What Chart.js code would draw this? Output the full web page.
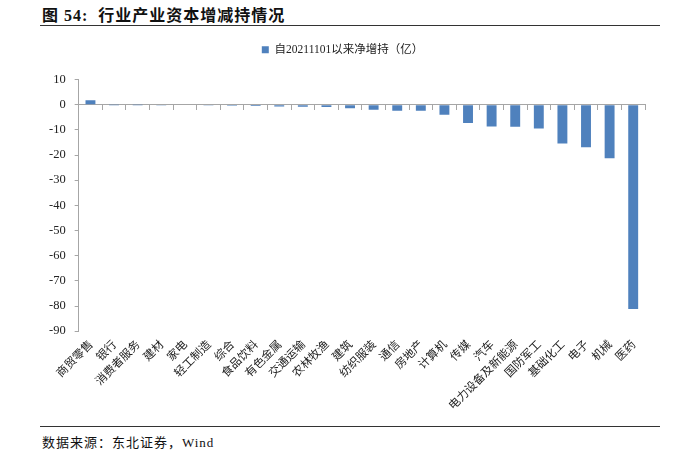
<!DOCTYPE html>
<html><head><meta charset="utf-8">
<script src="https://cdn.jsdelivr.net/npm/chart.js@4.4.0/dist/chart.umd.min.js"></script>
<style>
html,body{margin:0;padding:0;background:#fff;}
body{width:674px;height:459px;position:relative;overflow:hidden;font-family:"Liberation Serif","Noto Sans CJK SC",serif;}
#title{position:absolute;left:42px;top:2px;font-size:16px;letter-spacing:1px;font-weight:bold;color:#111;white-space:nowrap;}
#line1{position:absolute;left:40px;top:25px;width:620px;height:0;border-top:1.5px solid #333;}
#line2{position:absolute;left:40px;top:426px;width:620px;height:0;border-top:1.5px solid #333;}
#src{position:absolute;left:42px;top:432px;font-size:13px;letter-spacing:1px;color:#111;white-space:nowrap;}
#wrap{position:absolute;left:0;top:30px;width:674px;height:395px;}
</style></head>
<body>
<div id="title">图 54:&nbsp; 行业产业资本增减持情况</div>
<div id="line1"></div>
<div id="wrap"><canvas id="c"></canvas></div>
<div id="line2"></div>
<div id="src">数据来源：东北证券，Wind</div>
<script>
const categories = ["商贸零售","银行","消费者服务","建材","家电","轻工制造","综合","食品饮料","有色金属","交通运输","农林牧渔","建筑","纺织服装","通信","房地产","计算机","传媒","汽车","电力设备及新能源","国防军工","基础化工","电子","机械","医药"];
const netIncrease = [1.8,-0.02,-0.05,-0.1,-0.2,-0.3,-0.4,-0.5,-0.7,-0.8,-0.9,-1.4,-2.0,-2.4,-2.4,-4.0,-7.3,-8.7,-8.8,-9.5,-15.4,-16.9,-21.3,-81.2];
const seriesName = "自20211101以来净增持（亿）";
const yMin = -90, yMax = 10, yStep = 10;

const axisColor = "#A6A6A6";
const serif = "'Liberation Serif','Noto Sans CJK SC',serif";

const legendMargin = {
  id: 'legendMargin',
  beforeInit(chart) {
    const fit = chart.legend.fit;
    chart.legend.fit = function () { fit.bind(chart.legend)(); this.height += 14; };
  }
};

new Chart(document.getElementById('c'), {
  type: 'bar',
  data: {
    labels: categories,
    datasets: [{
      label: seriesName,
      data: netIncrease,
      backgroundColor: '#4F81BD',
      borderWidth: 0,
      barPercentage: 0.42,
      categoryPercentage: 1.0,
      xAxisID: 'x',
      yAxisID: 'y'
    }]
  },
  plugins: [legendMargin],
  options: {
    responsive: true,
    maintainAspectRatio: false,
    animation: false,
    layout: { padding: { left: 40, right: 29, top: 4, bottom: 7 } },
    plugins: {
      legend: {
        display: true,
        position: 'top',
        labels: {
          boxWidth: 7, boxHeight: 7, color: '#222',
          font: { family: serif, size: 11.5 },
          padding: 10
        }
      },
      tooltip: { enabled: false }
    },
    scales: {
      x: {
        type: 'category',
        position: 'bottom',
        offset: true,
        grid: { display: false, drawTicks: false },
        border: { display: false },
        ticks: {
          minRotation: 45, maxRotation: 45, autoSkip: false,
          color: '#222', padding: 6,
          font: { family: "'Noto Sans CJK SC',sans-serif", size: 11.5 }
        }
      },
      xz: {
        type: 'category',
        labels: categories,
        position: { y: 0 },
        offset: true,
        grid: { display: true, drawOnChartArea: false, drawTicks: true, tickLength: 5, color: axisColor, offset: true },
        border: { display: true, color: axisColor, width: 1 },
        ticks: { display: false }
      },
      y: {
        min: yMin, max: yMax,
        ticks: { stepSize: yStep, color: '#222', padding: 9, font: { family: serif, size: 12.5 } },
        grid: { display: true, drawOnChartArea: false, drawTicks: true, tickLength: 4, color: axisColor },
        border: { display: true, color: axisColor, width: 1 }
      }
    }
  }
});
</script>
</body></html>
